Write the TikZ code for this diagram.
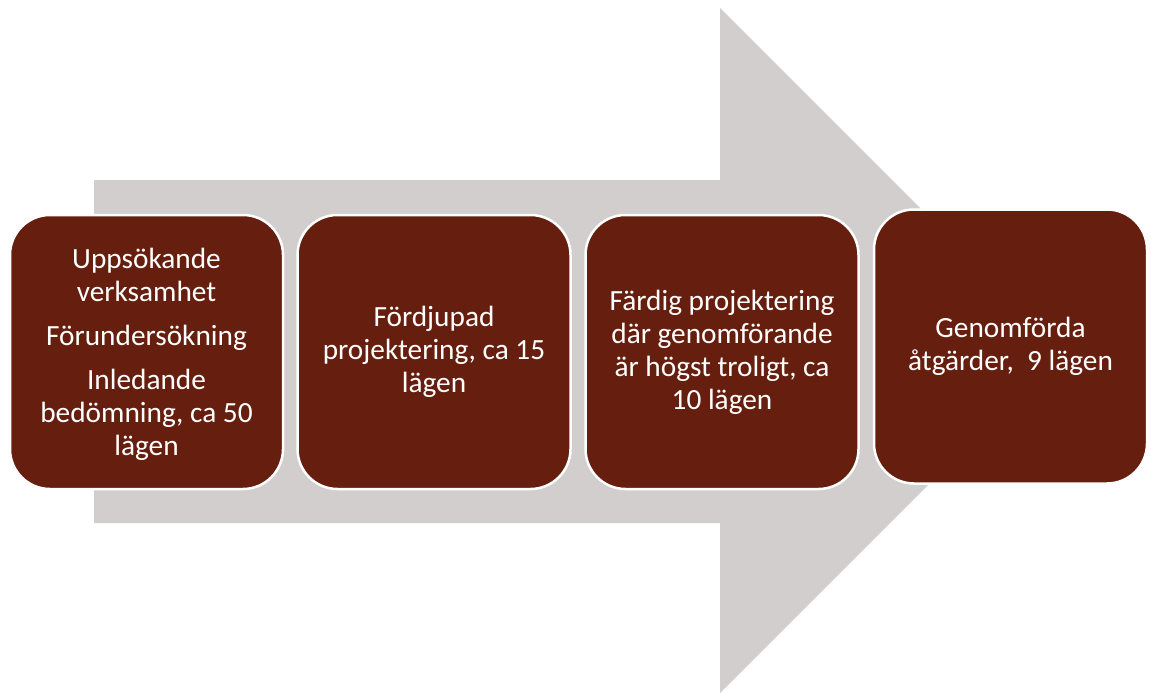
\documentclass[tikz,border=0pt]{standalone}
\usepackage{fontspec}
\setmainfont{Carlito}
\definecolor{arrowgray}{HTML}{D3CECE}
\definecolor{stagebrown}{HTML}{661F0E}
\begin{document}
\begin{tikzpicture}[x=1pt,y=-1pt,
  stage/.style={rectangle, rounded corners=40pt, fill=stagebrown, draw=white,
    line width=2.5pt, minimum width=273pt, minimum height=274pt,
    text=white, align=center, inner sep=0pt,
    font=\fontsize{29.3}{33}\selectfont}]
\useasboundingbox (0,0) rectangle (1152,693);

% broad background arrow
\fill[arrowgray] (94,180) -- (720,180) -- (720,8) -- (1062.5,350.5)
  -- (720,693) -- (720,523) -- (94,523) -- cycle;

% process stages
\node[stage] (s1) at (146.5,352) {\\[-8pt]Uppsökande\\verksamhet\\[11pt]Förundersökning\\[11pt]Inledande\\bedömning, ca 50\\lägen};
\node[stage] (s2) at (434,352) {Fördjupad\\projektering, ca 15\\lägen};
\node[stage] (s3) at (722,352) {Färdig projektering\\där genomförande\\är högst troligt, ca\\10 lägen};
\node[stage] (s4) at (1010.5,346.5) {Genomförda\\åtgärder,\ \ 9 lägen};
\end{tikzpicture}
\end{document}
